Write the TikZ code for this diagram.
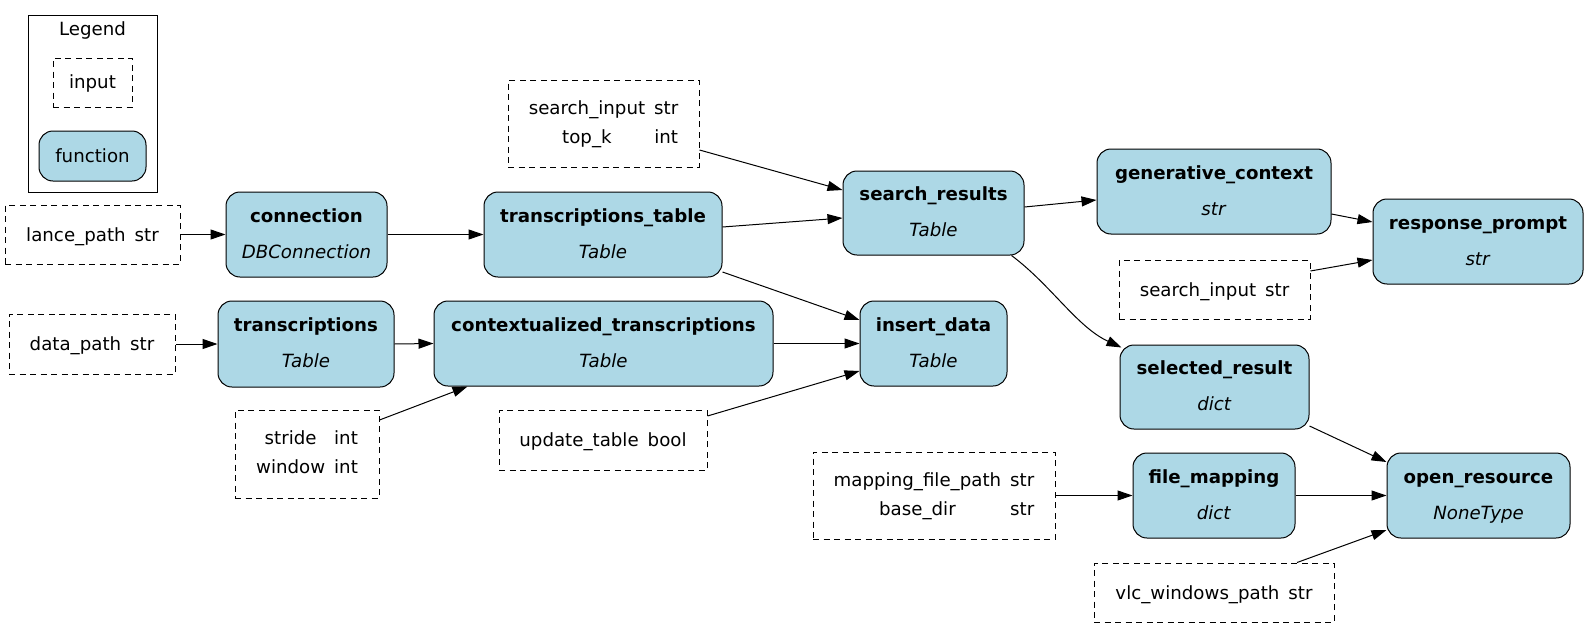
\documentclass[tikz,border=0pt]{standalone}
\usepackage{fontspec}
\setmainfont{DejaVu Sans}
\usetikzlibrary{arrows.meta,calc}
\definecolor{fnblue}{HTML}{ADD8E6}
\newcommand\fnnode[7]{%
  \node[fn, minimum width=#4pt, minimum height=#5pt] (#1) at (#2,#3) {};
  \node[lbl] (#1-t) at ($(#1.center)+(0,-12.5)$) {\begin{tabular}[t]{@{}c@{}}\textbf{#6}\\\textit{#7}\end{tabular}};
}
\newcommand\inone[6]{%
  \node[inp, minimum width=#4pt, minimum height=#5pt] (#1) at (#2,#3) {};
  \node[lbl] (#1-t) at ($(#1.center)+(0,6.5)$) {\begin{tabular}[t]{@{}c@{\hspace{9pt}}c@{}}#6\end{tabular}};
}
\newcommand\intwo[6]{%
  \node[inp, minimum width=#4pt, minimum height=#5pt] (#1) at (#2,#3) {};
  \node[lbl2] (#1-t) at ($(#1.center)+(0,-9.5)$) {\begin{tabular}[t]{@{}c@{\hspace{9pt}}c@{}}#6\end{tabular}};
}
\begin{document}
\begin{tikzpicture}[x=1pt,y=-1pt,
  fn/.style={draw=black, fill=fnblue, rounded corners=14pt, line width=1pt, inner sep=0pt},
  inp/.style={draw=black, dash pattern=on 6pt off 4.5pt, line width=1pt, inner sep=0pt},
  lbl/.style={anchor=base, inner sep=0pt, font=\fontsize{18.2}{36}\selectfont},
  lbl2/.style={anchor=base, inner sep=0pt, font=\fontsize{18.2}{29}\selectfont},
  edge/.style={draw, line width=1pt, -{Triangle[length=15pt,width=10pt]}},
]
\useasboundingbox (0,0) rectangle (1589,629);

% legend
\node[draw=black, line width=1pt, minimum width=129pt, minimum height=177pt, inner sep=0pt] (legend) at (92.5,103.5) {};
\node[lbl] (legend-t) at (92.5,35) {Legend};
\node[inp, minimum width=79pt, minimum height=49pt] (leginp) at (92.5,82.5) {};
\node[lbl] (leginp-t) at (92.5,88.5) {input};
\node[fn, minimum width=107pt, minimum height=50pt] (legfn) at (92.5,156) {};
\node[lbl] (legfn-t) at (92.5,162) {function};

% inputs
\inone{lance}{92.5}{234.5}{175}{59}{lance\_path & str}
\inone{dp}{92}{344}{166}{60}{data\_path & str}
\intwo{st}{307}{454}{144}{88}{stride & int\\window & int}
\inone{up}{603}{440}{208}{60}{update\_table & bool}
\intwo{si}{603.5}{123.5}{191}{87}{search\_input & str\\top\_k & int}
\inone{si2}{1214.5}{289.5}{191}{59}{search\_input & str}
\intwo{map}{934}{495.5}{242}{87}{mapping\_file\_path & str\\base\_dir & str}
\inone{vlc}{1214}{592.5}{240}{59}{vlc\_windows\_path & str}

% functions
\fnnode{conn}{306.5}{234.5}{161}{85}{connection}{DBConnection}
\fnnode{tt}{603}{234.5}{238}{85}{transcriptions\_table}{Table}
\fnnode{tr}{306}{344}{176}{86}{transcriptions}{Table}
\fnnode{ctx}{603.5}{343.5}{339}{85}{contextualized\_transcriptions}{Table}
\fnnode{sr}{933.5}{213}{181}{84}{search\_results}{Table}
\fnnode{ins}{933.5}{343.5}{147}{85}{insert\_data}{Table}
\fnnode{gc}{1214}{191.5}{234}{85}{generative\_context}{str}
\fnnode{rp}{1478}{241.5}{210}{85}{response\_prompt}{str}
\fnnode{sel}{1214.5}{387}{189}{84}{selected\_result}{dict}
\fnnode{fm}{1214}{495.5}{162}{85}{file\_mapping}{dict}
\fnnode{open}{1478.5}{495.5}{183}{85}{open\_resource}{NoneType}

% edges
\draw[edge] (lance.east) -- (conn.west);
\draw[edge] (conn.east) -- (tt.west);
\draw[edge] ($(tt.east)+(0,-7.5)$) -- ($(sr.west)+(0,5)$);
\draw[edge] ($(si.east)+(0,26.5)$) -- ($(sr.west)+(0,-23)$);
\draw[edge] ($(tt.east)+(0,37.5)$) -- ($(ins.west)+(0,-23.5)$);
\draw[edge] ($(sr.east)+(0,-6)$) -- ($(gc.west)+(0,8.5)$);
\draw[edge] ($(sr.south east)+(-13,0)$) .. controls (1051,285) and (1077,327) .. ($(sel.north west)+(2,3)$);
\draw[edge] ($(gc.east)+(0,22.5)$) -- ($(rp.west)+(0,-19.5)$);
\draw[edge] ($(si2.east)+(0,-18.5)$) -- ($(rp.west)+(0,18.5)$);
\draw[edge] (dp.east) -- (tr.west);
\draw[edge] (tr.east) -- (ctx.west);
\draw[edge] (ctx.east) -- (ins.west);
\draw[edge] ($(st.east)+(0,-34)$) -- ($(ctx.south west)+(34,0)$);
\draw[edge] ($(up.east)+(0,-24)$) -- ($(ins.west)+(0,27.5)$);
\draw[edge] ($(sel.east)+(0,39)$) -- ($(open.west)+(0,-33.5)$);
\draw[edge] (map.east) -- (fm.west);
\draw[edge] (fm.east) -- (open.west);
\draw[edge] ($(vlc.north)+(83,0)$) -- ($(open.west)+(0,34.5)$);
\end{tikzpicture}
\end{document}
